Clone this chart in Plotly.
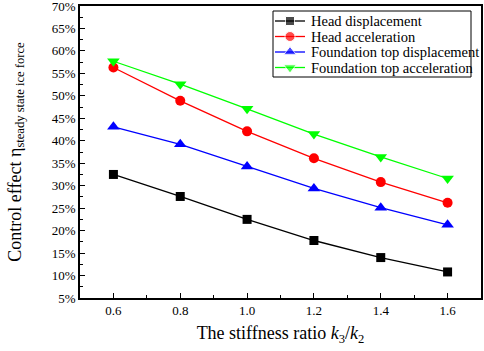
import plotly.graph_objects as go

x_ratio = [0.6, 0.8, 1.0, 1.2, 1.4, 1.6]
head_disp = [32.5, 27.6, 22.5, 17.8, 14.0, 10.8]
head_acc = [56.3, 48.9, 42.1, 36.1, 30.8, 26.2]
found_disp = [43.1, 39.2, 34.3, 29.4, 25.1, 21.3]
found_acc = [57.7, 52.6, 47.1, 41.5, 36.4, 31.6]

series = [
    ("Head displacement", head_disp, "black", "square", 9),
    ("Head acceleration", head_acc, "red", "circle", 10),
    ("Foundation top displacement", found_disp, "blue", "triangle-up", 11),
    ("Foundation top acceleration", found_acc, "#00ff00", "triangle-down", 11),
]

W, H = 484, 351
L, R, T, B = 80, 3, 6, 53
PW, PH = W - L - R, H - T - B


def fx(px):
    return (px - L) / PW


def fy(py):
    return 1 - (py - T) / PH


font = "Liberation Serif, Times New Roman, serif"
fig = go.Figure()
for name, ys, col, sym, sz in series:
    fig.add_trace(go.Scatter(
        x=x_ratio, y=ys, name=name, mode="lines+markers",
        line=dict(color=col, width=1.3),
        marker=dict(symbol=sym, size=sz, color=col),
        showlegend=False,
    ))

# custom legend (box, sample lines/markers, labels) in plot-area fractions
box = dict(x0=fx(273), x1=fx(471), y0=fy(77), y1=fy(11))
fig.add_shape(type="rect", xref="x2", yref="y2", **box,
              line=dict(color="black", width=1), fillcolor="white", layer="below")
row_y = [21, 36.5, 52, 67.5]
for (name, ys, col, sym, sz), ry in zip(series, row_y):
    fig.add_trace(go.Scatter(
        x=[fx(275), fx(290), fx(305)], y=[fy(ry)] * 3, xaxis="x2", yaxis="y2",
        mode="lines+markers", line=dict(color=col, width=1.3),
        marker=dict(symbol=sym, size=[0, sz, 0], color=col),
        showlegend=False, hoverinfo="skip",
    ))
    fig.add_annotation(x=fx(309), y=fy(ry), xref="x2", yref="y2", text=name,
                       showarrow=False, xanchor="left", yanchor="middle",
                       font=dict(family=font, size=14.5, color="black"))

fig.update_layout(
    width=W, height=H,
    margin=dict(l=L, r=R, t=T, b=B),
    paper_bgcolor="white", plot_bgcolor="white",
    font=dict(family=font, size=13, color="black"),
    showlegend=False,
    xaxis2=dict(overlaying="x", range=[0, 1], visible=False, fixedrange=True),
    yaxis2=dict(overlaying="y", range=[0, 1], visible=False, fixedrange=True),
)
fig.update_layout(xaxis=dict(
    range=[0.5, 1.7], tickvals=[0.6, 0.8, 1.0, 1.2, 1.4, 1.6],
    ticktext=["0.6", "0.8", "1.0", "1.2", "1.4", "1.6"],
    ticks="inside", ticklen=5, tickwidth=1, tickcolor="black",
    minor=dict(ticks="inside", ticklen=3, dtick=0.1, tick0=0.5, tickcolor="black"),
    showline=True, linecolor="black", linewidth=1.5, mirror=True,
    showgrid=False, zeroline=False, automargin=False, ticklabeloverflow="allow",
    title=dict(text="The stiffness ratio <i>k</i><sub>3</sub>/<i>k</i><sub>2</sub>",
               font=dict(family=font, size=18), standoff=9),
))
fig.update_layout(yaxis=dict(
    range=[5, 70], dtick=5, tick0=5, ticksuffix="%",
    ticks="inside", ticklen=5, tickwidth=1, tickcolor="black",
    minor=dict(ticks="inside", ticklen=3, dtick=2.5, tick0=5, tickcolor="black"),
    showline=True, linecolor="black", linewidth=1.5, mirror=True,
    showgrid=False, zeroline=False, automargin=False, ticklabeloverflow="allow",
    title=dict(text="Control effect η<sub>steady state ice force</sub>",
               font=dict(family=font, size=18), standoff=26),
))
fig.write_html("out.html", config={"displayModeBar": False},
               post_script="document.body.style.margin='0px';")
